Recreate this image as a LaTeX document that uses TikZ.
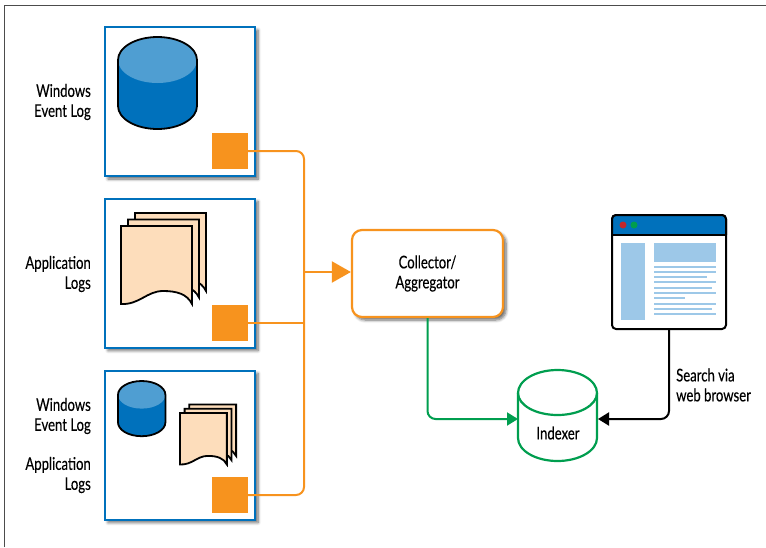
\documentclass[tikz,border=0pt]{standalone}
\usepackage{fontspec}
\setmainfont[FakeStretch=0.75,FakeBold=0.25]{Lato}
\usetikzlibrary{arrows.meta,shadows.blur}
\definecolor{boxblue}{HTML}{0071BC}
\definecolor{toplight}{HTML}{4F9ED2}
\definecolor{panelblue}{HTML}{9DC8E8}
\definecolor{pagepeach}{HTML}{FDDDBB}
\definecolor{busorange}{HTML}{F7931E}
\definecolor{idxgreen}{HTML}{009E4F}
\definecolor{dotred}{HTML}{C1272D}
\tikzset{
  lbl/.style={font=\fontsize{17.5}{20}\selectfont,text=black,align=right,inner sep=0pt},
  lblplain/.style={lbl,align=center},
  softshadow/.style={blur shadow={shadow xshift=3pt,shadow yshift=-3pt,shadow blur steps=6,shadow blur radius=3pt,shadow opacity=60}},
  srcbox/.style={draw=boxblue,line width=2pt,fill=white,minimum width=150pt,minimum height=149pt,inner sep=0pt,softshadow},
  agentsq/.style={fill=busorange,minimum size=36pt,inner sep=0pt},
  busline/.style={draw=busorange,line width=2pt,rounded corners=8pt},
  pics/dbicon/.style={
    code={
      \fill[boxblue] (0,23) -- (0,69) arc[start angle=180,end angle=0,x radius=39.5,y radius=23] -- (79,23) arc[start angle=0,end angle=-180,x radius=39.5,y radius=23];
      \fill[toplight] (39.5,23) circle[x radius=39.5,y radius=23];
      \draw[line width=1.8pt] (0,23) -- (0,69) arc[start angle=180,end angle=0,x radius=39.5,y radius=23] -- (79,23) arc[start angle=0,end angle=-180,x radius=39.5,y radius=23] -- cycle;
    }
  },
  pics/idxcyl/.style={
    code={
      \draw[idxgreen,line width=2.2pt,fill=white] (0,23) -- (0,68) arc[start angle=180,end angle=0,x radius=39.5,y radius=23] -- (79,23) arc[start angle=0,end angle=-180,x radius=39.5,y radius=23] -- cycle;
      \draw[idxgreen,line width=2.2pt] (0,23) arc[start angle=180,end angle=0,x radius=39.5,y radius=22];
    }
  },
  pics/docstack/.style={
    code={
      \foreach \d in {2,1,0} {
        \draw[fill=pagepeach,line width=1.8pt,shift={(7*\d,-6.5*\d)}] (0,0) -- (71,0) -- (71,78) .. controls (66,68) and (56,65) .. (42,65) .. controls (26,65) and (18,79) .. (0,78) -- cycle;
      }
    }
  },
}
\begin{document}
\begin{tikzpicture}[x=1pt,y=-1pt,>=Latex]
\useasboundingbox (0,0) rectangle (766,547);
\draw[black!70,line width=1pt] (4.5,547) -- (4.5,5) -- (766,5);

\node[srcbox] (winbox) at (180,101.5) {};
\node[srcbox] (appbox) at (180,273) {};
\node[srcbox] (bothbox) at (180,445) {};

\pic at (118,37) {dbicon};
\pic at (121,226) {docstack};
\pic[scale=.6] at (118,381) {dbicon};
\pic[scale=.66] at (180,413) {docstack};

\node[agentsq] (winsq) at (230,151) {};
\node[agentsq] (appsq) at (230,323) {};
\node[agentsq] (bothsq) at (230,495) {};

\node[lbl,anchor=east] (winlbl) at (91,102) {Windows\\Event Log};
\node[lbl,anchor=east] (applbl) at (91,274) {Application\\Logs};
\node[lbl,anchor=east] (bothwin) at (91,416) {Windows\\Event Log};
\node[lbl,anchor=east] (bothapp) at (91,475) {Application\\Logs};

\node[draw=busorange,line width=2.2pt,fill=white,rounded corners=10pt,minimum width=151pt,minimum height=87pt,softshadow] (collector) at (427.5,273.5) {};
\node[lblplain] (collectorlbl) at (collector.center) {Collector/\\Aggregator};

\coordinate (busin) at (304,272);
\draw[busline] (winsq.east) -| (busin) |- (bothsq.east);
\draw[busline] (appsq.east) -- (appsq.east -| busin);
\draw[draw=busorange,line width=2pt,-{Triangle[length=19pt,width=21pt]}] (busin) -- (busin -| collector.west);

\pic at (518,370) {idxcyl};
\node[lblplain] (indexer) at (558,433) {Indexer};
\coordinate (indexerl) at (518,419);
\coordinate (indexerr) at (598,419);
\draw[draw=idxgreen,line width=2pt,rounded corners=8pt,-{Triangle[length=11pt,width=13pt]}] (collector.south) |- (indexerl);

\node[draw,line width=2pt,fill=white,rounded corners=4pt,minimum size=114pt,inner sep=0pt] (browser) at (669,272) {};
\fill[boxblue,rounded corners=4pt] (612,215) -- (726,215) -- (726,235) -- (612,235) -- cycle;
\fill[boxblue] (612,226) rectangle (726,235);
\draw[line width=2pt,rounded corners=4pt] (612,235) -- (612,215) -- (726,215) -- (726,235);
\draw[line width=2pt] (612,235) -- (726,235);
\fill[dotred] (623,225) circle[radius=3.5];
\fill[idxgreen] (634,225) circle[radius=3.5];
\fill[panelblue] (621,243) rectangle (645,320);
\fill[panelblue] (654,243) rectangle (716,262);
\foreach \ly/\lx in {266.7/716,271.7/716,277/707,282.3/716,287.7/712,293/716,298.3/685,303.7/716,309/712,314.3/716} {
  \draw[panelblue,line width=2pt] (654,\ly) -- (\lx,\ly);
}

\draw[line width=2pt,rounded corners=8pt,-{Triangle[length=11pt,width=13pt]}] (browser.south) |- (indexerr);
\node[lbl,align=left,anchor=west] (searchlbl) at (676,385) {Search via\\web browser};
\end{tikzpicture}
\end{document}
